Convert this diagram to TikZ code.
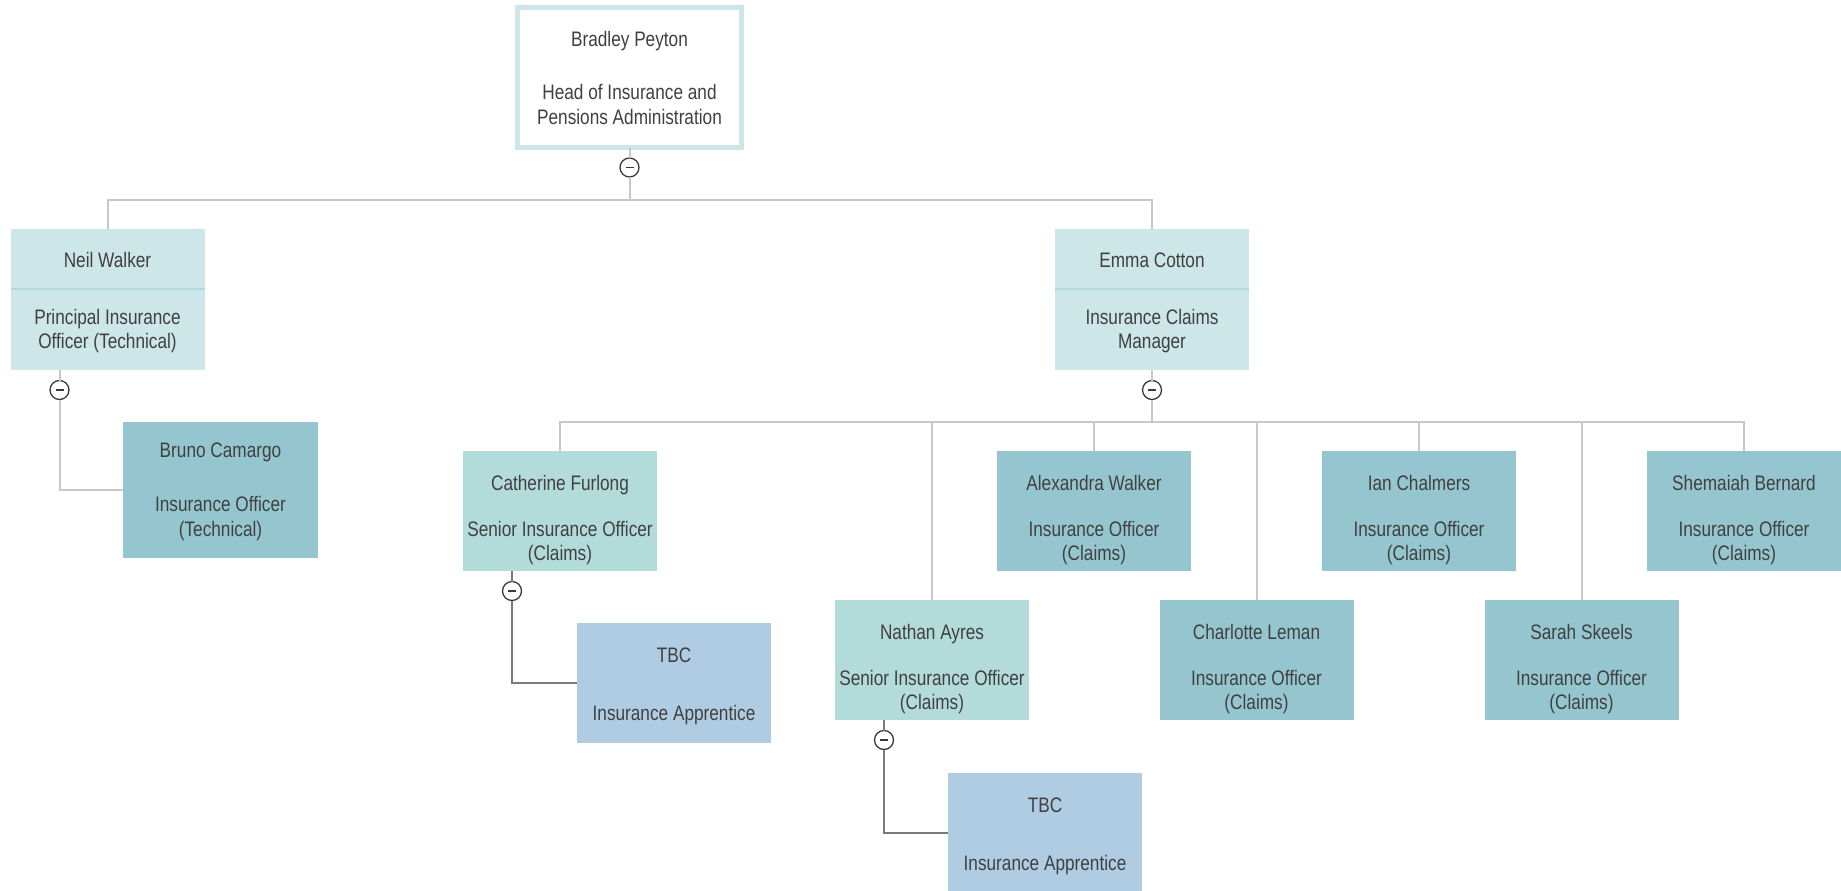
\documentclass[tikz,border=0pt]{standalone}
\usepackage{fontspec}
\setmainfont{Liberation Sans}[FakeStretch=0.82]
\usetikzlibrary{positioning}
\definecolor{txtgray}{HTML}{404040}
\definecolor{headline}{HTML}{CDE6E9}
\definecolor{mgrfill}{HTML}{CDE6E8}
\definecolor{mgrsep}{HTML}{B3D8DD}
\definecolor{snrfill}{HTML}{B3DBDA}
\definecolor{offfill}{HTML}{95C6D0}
\definecolor{appfill}{HTML}{B0CCE3}
\definecolor{linkgray}{HTML}{C8C8C8}
\definecolor{darkgray}{HTML}{7A7A7A}
\definecolor{togglegray}{HTML}{3A3A3A}
\newcommand{\staffcard}[1]{\begin{tabular}[t]{@{}c@{}}#1\end{tabular}}

\begin{document}
\begin{tikzpicture}[x=1pt,y=-1pt,
  emp/.style={shape=rectangle,inner sep=0pt,outer sep=0pt,text=txtgray,
    minimum width=194pt,minimum height=120pt,text height=39pt,text depth=81pt,
    font=\fontsize{21}{24.5}\selectfont},
  empHead/.style={emp,draw=headline,line width=5pt,fill=white,
    minimum width=224pt,minimum height=140pt,text height=39.2pt,text depth=100.8pt},
  empMgr/.style={emp,fill=mgrfill,minimum height=141pt,text height=38.7pt,text depth=102.3pt},
  empSnr/.style={emp,fill=snrfill},
  empOff/.style={emp,fill=offfill},
  empOffB/.style={empOff,minimum width=195pt,minimum height=136pt,text height=35.7pt,text depth=100.3pt},
  empApp/.style={emp,fill=appfill},
  toggle/.style={shape=circle,draw=togglegray,line width=1.3pt,fill=white,text=togglegray,
    minimum size=19pt,inner sep=0pt,outer sep=0pt},
  link/.style={draw=linkgray,line width=2pt},
  linkD/.style={draw=darkgray,line width=1.6pt},
  sepline/.style={draw=mgrsep,line width=1.2pt}]
\def\ya{77.5}
\def\yb{299.5}
\def\yc{511}
\def\yd{660}
\def\gap{21.5}
\def\gapT{34.2}

\useasboundingbox (0,0) rectangle (1841,891);

\coordinate (busA) at (629.5,200);
\coordinate (busB) at (1152,422);

\node[empHead] (BP) at (629.5,\ya) {\staffcard{Bradley Peyton\\[28.8pt]Head of Insurance and\\Pensions Administration}};

\node[empMgr] (NW) at (107.5,\yb) {\staffcard{Neil Walker\\[31.8pt]Principal Insurance\\Officer (Technical)}};
\node[empMgr] (EC) at (1152,\yb) {\staffcard{Emma Cotton\\[31.8pt]Insurance Claims\\Manager}};
\draw[sepline] ([yshift=-60pt]NW.north west) -- ([yshift=-60pt]NW.north east);
\draw[sepline] ([yshift=-60pt]EC.north west) -- ([yshift=-60pt]EC.north east);

\node[empOffB] (BC) at (220.5,490) {\staffcard{Bruno Camargo\\[29.5pt]Insurance Officer\\(Technical)}};

\node[empSnr] (CF) at (560,\yc) {\staffcard{Catherine Furlong\\[\gap pt]Senior Insurance Officer\\(Claims)}};
\node[empSnr] (NA) at (932,\yd) {\staffcard{Nathan Ayres\\[\gap pt]Senior Insurance Officer\\(Claims)}};
\node[empOff] (AW) at (1094,\yc) {\staffcard{Alexandra Walker\\[\gap pt]Insurance Officer\\(Claims)}};
\node[empOff] (CL) at (1256.5,\yd) {\staffcard{Charlotte Leman\\[\gap pt]Insurance Officer\\(Claims)}};
\node[empOff] (IC) at (1419,\yc) {\staffcard{Ian Chalmers\\[\gap pt]Insurance Officer\\(Claims)}};
\node[empOff] (SS) at (1581.5,\yd) {\staffcard{Sarah Skeels\\[\gap pt]Insurance Officer\\(Claims)}};
\node[empOff] (SB) at (1744,\yc) {\staffcard{Shemaiah Bernard\\[\gap pt]Insurance Officer\\(Claims)}};

\node[empApp] (TB1) at (674,683) {\staffcard{TBC\\[\gapT pt]Insurance Apprentice}};
\node[empApp] (TB2) at (1045,833) {\staffcard{TBC\\[\gapT pt]Insurance Apprentice}};

% toggles
\node[toggle] (BPt) at ([yshift=-20pt]BP.south) {\rule{8pt}{1.8pt}};
\node[toggle] (NWt) at ([xshift=49pt,yshift=-20pt]NW.south west) {\rule{8pt}{1.8pt}};
\node[toggle] (ECt) at ([yshift=-20pt]EC.south) {\rule{8pt}{1.8pt}};
\node[toggle] (CFt) at ([xshift=49pt,yshift=-20pt]CF.south west) {\rule{8pt}{1.8pt}};
\node[toggle] (NAt) at ([xshift=49pt,yshift=-20pt]NA.south west) {\rule{8pt}{1.8pt}};

\draw[link] (BP.south) -- (BPt.north);
\draw[link] (BPt.south) -- (busA);
\draw[link] (NW.north) |- (busA) -| (EC.north);

\draw[link] (EC.south) -- (ECt.north);
\draw[link] (ECt.south) -- (busB);
\draw[link] (CF.north) |- (busB) -| (SB.north);
\draw[link] (NA.north) -- (NA.north |- busB);
\draw[link] (AW.north) -- (AW.north |- busB);
\draw[link] (CL.north) -- (CL.north |- busB);
\draw[link] (IC.north) -- (IC.north |- busB);
\draw[link] (SS.north) -- (SS.north |- busB);

\draw[link] (NWt.north) -- (NWt.north |- NW.south);
\draw[link] (NWt.south) |- (BC.west);
\draw[linkD] (CFt.north) -- (CFt.north |- CF.south);
\draw[linkD] (CFt.south) |- (TB1.west);
\draw[linkD] (NAt.north) -- (NAt.north |- NA.south);
\draw[linkD] (NAt.south) |- (TB2.west);
\end{tikzpicture}
\end{document}
